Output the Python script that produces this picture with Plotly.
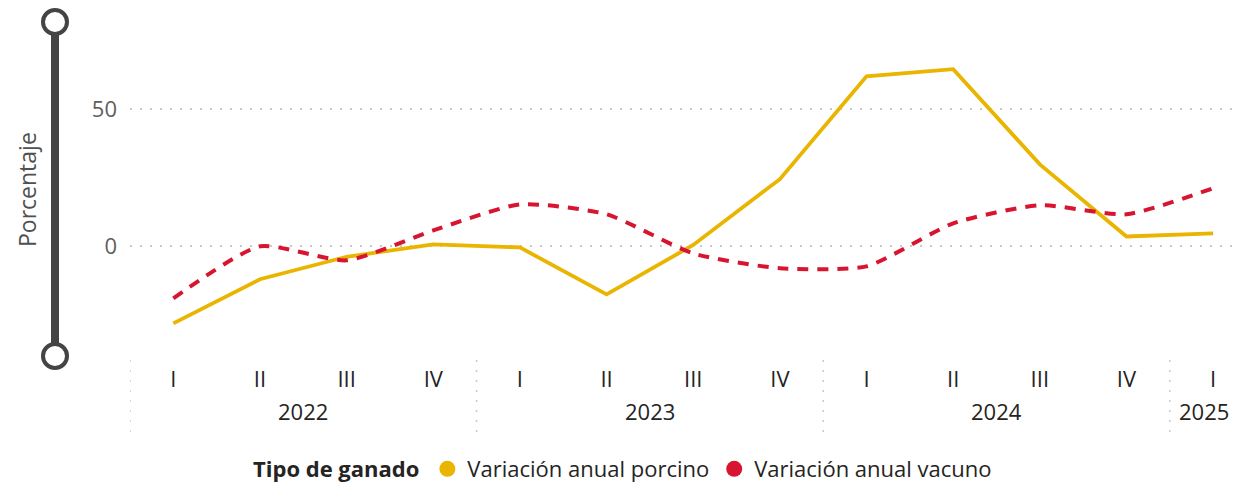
import plotly.graph_objects as go

quarters = ['I', 'II', 'III', 'IV', 'I', 'II', 'III', 'IV', 'I', 'II', 'III', 'IV', 'I']
years = ['2022', '2023', '2024', '2025']
year_centres = [1.5, 5.5, 9.5, 12]
year_breaks = [-0.5, 3.5, 7.5, 11.5]
porcino = [-28.1, -12.0, -3.8, 0.7, -0.4, -17.5, 0.5, 24.5, 62.0, 64.6, 29.9, 3.6, 4.7]
vacuno = [-19.0, 0.0, -5.1, 5.8, 15.3, 11.7, -2.6, -8.0, -7.3, 8.4, 15.0, 11.7, 21.2]

YELLOW = '#E9B500'
RED = '#D81530'
FONT = 'Open Sans'

x = list(range(len(quarters)))

fig = go.Figure()
fig.add_trace(go.Scatter(
    x=x, y=porcino, mode='lines', showlegend=False,
    line=dict(color=YELLOW, width=3.8)
))
fig.add_trace(go.Scatter(
    x=x, y=vacuno, mode='lines', showlegend=False,
    line=dict(color=RED, width=4, dash='11px,9px', shape='spline', smoothing=0.6)
))
# legend entries with round swatches
for name, col in [('Variación anual porcino', YELLOW), ('Variación anual vacuno', RED)]:
    fig.add_trace(go.Scatter(
        x=[None], y=[None], mode='markers', name=name,
        marker=dict(color=col, size=22, symbol='circle')
    ))

# page has an 8px body margin, so the figure sits 8px in from the corner
OFF = 8
W, H = 1240 - OFF, 490 - OFF
left, top = 130 - OFF, 27 - OFF
bottom = H - (356 - OFF)
plot_w, plot_h = W - left, H - top - bottom

def px_x(p):
    return (p - OFF - left) / plot_w

def px_y(p):
    return (H - bottom - (p - OFF)) / plot_h

shapes = []
# dotted separators between years
for b in year_breaks:
    shapes.append(dict(type='line', xref='x', yref='paper', x0=b, x1=b,
                       y0=px_y(360), y1=px_y(436),
                       line=dict(color='#c8c8c8', width=1.5, dash='2px,8px')))
# zoom slider on the y axis
sx = px_x(55)
shapes.append(dict(type='line', xref='paper', yref='paper', x0=sx, x1=sx,
                   y0=px_y(22), y1=px_y(356), line=dict(color='#444444', width=8)))
for cy in [22, 356]:
    shapes.append(dict(type='circle', xref='paper', yref='paper',
                       xsizemode='pixel', ysizemode='pixel',
                       xanchor=sx, yanchor=px_y(cy),
                       x0=-12, x1=12, y0=-12, y1=12,
                       fillcolor='white', line=dict(color='#444444', width=4)))

annotations = []
for yr, c in zip(years, year_centres):
    ann = dict(x=c, y=px_y(411), xref='x', yref='paper', text=yr,
               showarrow=False, xanchor='center', yanchor='middle',
               font=dict(family=FONT, size=22, color='#252423'))
    if yr == years[-1]:
        # last year sits against the right edge of the visible area
        ann.update(x=px_x(1231), xref='paper', xanchor='right')
    annotations.append(ann)
annotations.append(dict(x=px_x(27), y=px_y(190), xref='paper', yref='paper',
                        text='Porcentaje', textangle=-90, showarrow=False,
                        xanchor='center', yanchor='middle',
                        font=dict(family=FONT, size=23, color='#505050')))

fig.update_layout(
    width=W, height=H,
    margin=dict(l=left, r=0, t=top, b=bottom, autoexpand=False),
    paper_bgcolor='white', plot_bgcolor='white',
    font=dict(family=FONT, size=22, color='#252423'),
    xaxis=dict(range=[-0.5, 12.31], tickvals=x, ticktext=quarters, automargin=False,
               showgrid=False, zeroline=False, showline=False, ticks='',
               ticklabelstandoff=8,
               tickfont=dict(family=FONT, size=22, color='#252423')),
    yaxis=dict(range=[-40, 80], tickvals=[0, 50], showgrid=True, automargin=False,
               gridcolor='#c8c8c8', griddash='2px,8px', gridwidth=1.5,
               zeroline=False, showline=False, ticks='', ticklabelstandoff=12,
               tickfont=dict(family=FONT, size=22, color='#605E5C')),
    legend=dict(orientation='h', xref='container', yref='container',
                x=0.5, xanchor='center', y=-0.014, yanchor='bottom',
                title=dict(text='<b>Tipo de ganado</b>', font=dict(family=FONT, size=22)),
                itemwidth=30, tracegroupgap=0, font=dict(family=FONT, size=22)),
    shapes=shapes, annotations=annotations,
)

fig.write_html("out.html")
